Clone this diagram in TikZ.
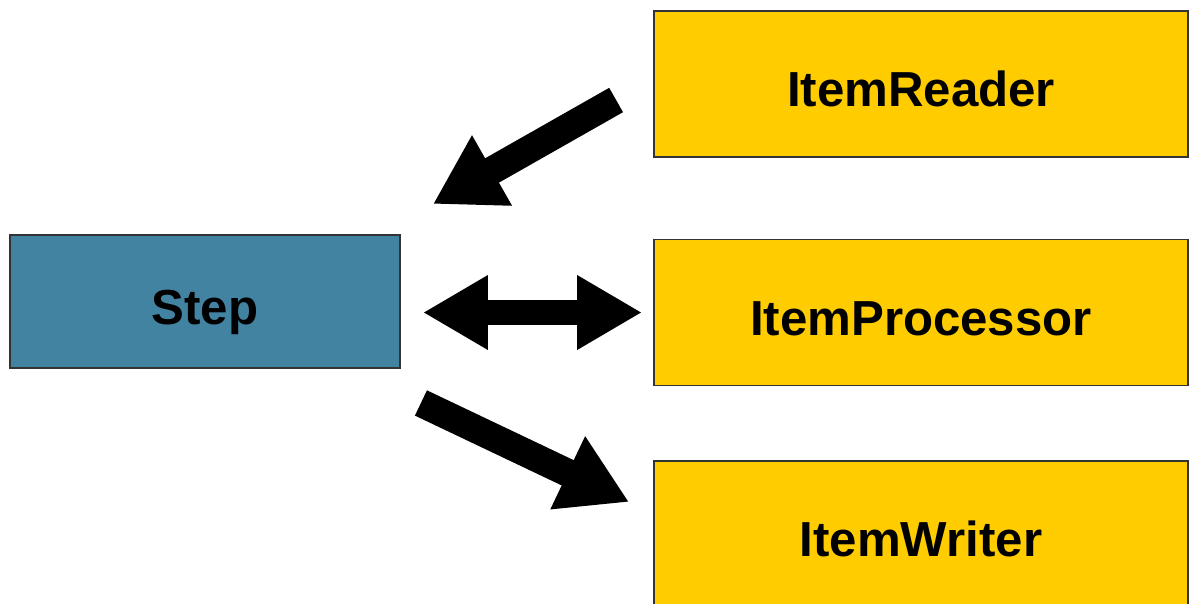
\documentclass[tikz,border=0pt]{standalone}
\usepackage{fontspec}
\setmainfont{Liberation Sans}
\usetikzlibrary{arrows.meta,calc}
\definecolor{stepblue}{RGB}{67,131,162}
\definecolor{itemyellow}{RGB}{255,204,0}
\begin{document}
\begin{tikzpicture}[x=0.02cm,y=-0.02cm,
    font=\bfseries\fontsize{28}{32}\selectfont,
    box/.style={draw=black!80,line width=1.1pt,inner sep=0pt,text height=1.11cm,text depth=0.2cm},
    bigarrow/.style={line width=0.56cm,-{Triangle[length=1.36cm,width=1.52cm]}}]
  \useasboundingbox (0,0) rectangle (1190,603);

  \node[box,fill=stepblue,minimum width=7.8cm,minimum height=2.66cm] (step) at (205,301.5) {Step};
  \foreach \n/\y/\t in {reader/84/ItemReader,proc/312.5/ItemProcessor,writer/534/ItemWriter}{
    \node[box,fill=itemyellow,minimum width=10.68cm,minimum height=2.92cm] (\n) at (921,\y) {\t};}

  \draw[bigarrow] ($(reader.west)+(-37,16)$) -- ($(step.north east)+(32,-30)$);
  \draw[bigarrow,line width=0.5cm,{Triangle[length=1.3cm,width=1.4cm]}-{Triangle[length=1.3cm,width=1.4cm]}]
    ($(step.east |- proc)+(22,0)$) -- ($(proc.west)+(-11,0)$);
  \draw[bigarrow] ($(step.south east)+(20,34)$) -- ($(writer.west)+(-24,-32)$);
\end{tikzpicture}
\end{document}
